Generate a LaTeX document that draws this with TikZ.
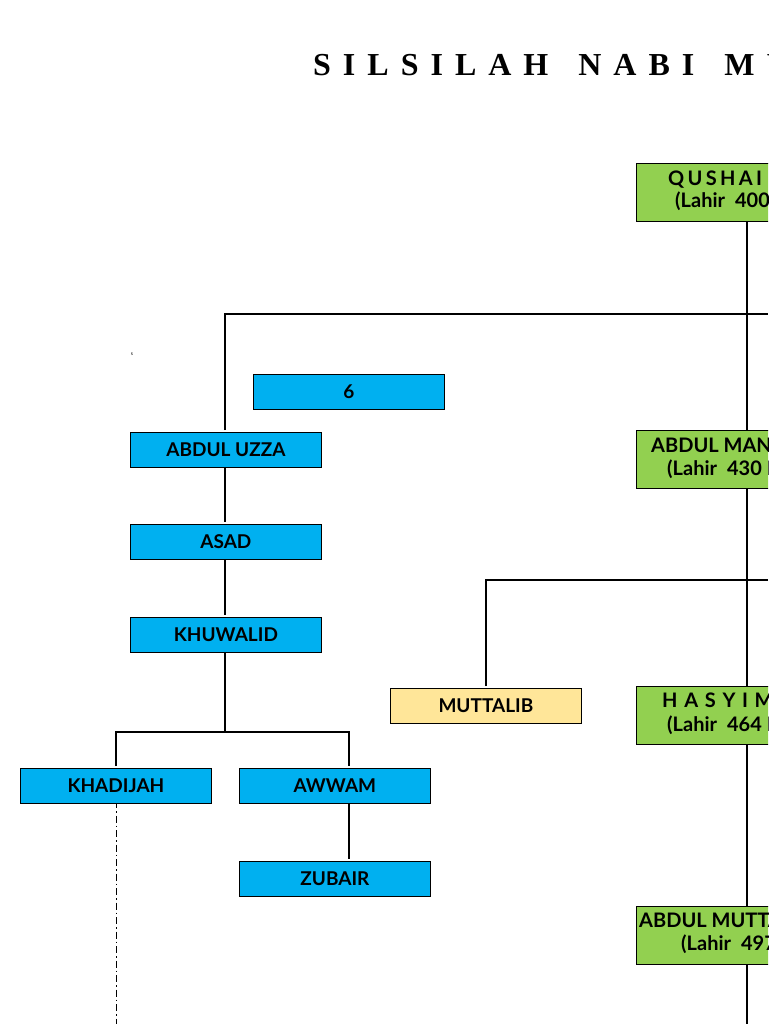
\documentclass[tikz,border=0pt]{standalone}
\usepackage{fontspec}
\setmainfont{Lato}
\newfontfamily\titlefont{Liberation Serif}
\definecolor{bluebox}{HTML}{00B0F0}
\definecolor{greenbox}{HTML}{92D050}
\definecolor{yellowbox}{HTML}{FFE699}
\newcommand{\tg}{\kern12pt}
\begin{document}
\begin{tikzpicture}[x=1pt,y=-1pt,
  bx/.style={draw=black,line width=0.8pt,fill=bluebox,minimum width=191pt,minimum height=35pt,inner sep=0pt,font=\bfseries\fontsize{19}{21}\selectfont,anchor=north west,text depth=0pt,text height=13pt,yshift=-2pt},
  gbox/.style={draw=black,line width=0.8pt,fill=greenbox,anchor=north west,minimum width=200pt,minimum height=58pt,inner sep=0pt},
  gt/.style={anchor=west,font=\bfseries\fontsize{20}{22}\selectfont,inner sep=0pt},
  ln/.style={line width=1.3pt}]
\useasboundingbox (0,0) rectangle (768,1024);
\clip (0,0) rectangle (768,1024);
% title
\node[anchor=west,inner sep=0pt,font=\titlefont\bfseries\fontsize{32}{36}\selectfont] (title) at (313,65) {S\tg I\tg L\tg S\tg I\tg L\tg A\tg H\kern30pt N\tg A\tg B\tg I\kern30pt M\tg U\tg H\tg A\tg M\tg M\tg A\tg D};
\node[font=\fontsize{5}{5}\selectfont,inner sep=0pt] (s) at (132,354) {s};
% lines
\coordinate (top) at (747,221);
\coordinate (bot) at (747,1024);
\coordinate (rr1) at (768,314);
\coordinate (rr2) at (768,580);
\coordinate (dend) at (116,1024);
\draw[ln] (top) -- (bot);
\draw[ln] (225,430) -- (225,314) -- (rr1);
\draw[ln] (486,686) -- (486,580) -- (rr2);
\draw[ln] (225,465) -- (225,522);
\draw[ln] (225,557) -- (225,615);
\draw[ln] (225,650) -- (225,732);
\draw[ln] (116,766) -- (116,732) -- (349,732) -- (349,766);
\draw[ln] (349,801) -- (349,859);
\draw[line width=1pt,dash pattern=on 7pt off 3pt on 1.5pt off 3pt] (116,801) -- (dend);
% green boxes
\node[gbox] (qusha) at (636,163) {};
\node[gbox] (manaf) at (636,430) {};
\node[gbox] (hasyim) at (636,686) {};
\node[gbox] (mut) at (636,906) {};
\node[gt] at (668,180) {Q\,U\,S\,H\,A\,I};
\node[gt] at (675,201) {(Lahir\,\,\,400 M)};
\node[gt] at (651,445) {ABDUL MANAF};
\node[gt] at (667,469) {(Lahir\,\,\,430 M)};
\node[gt] at (662,700) {H\,\,A\,\,S\,\,Y\,\,I\,\,M};
\node[gt] at (667,725) {(Lahir\,\,\,464 M)};
\node[gt] at (639,920) {ABDUL MUTTALIB};
\node[gt] at (681,944) {(Lahir\,\,\,497 M)};
% blue boxes
\node[bx] (six) at (253,372) {6};
\node[bx] (uzza) at (130,430) {ABDUL UZZA};
\node[bx] (asad) at (130,522) {ASAD};
\node[bx] (khuw) at (130,615) {KHUWALID};
\node[bx] (khad) at (20,766) {KHADIJAH};
\node[bx] (awwam) at (239,766) {AWWAM};
\node[bx] (zubair) at (239,859) {ZUBAIR};
\node[bx,fill=yellowbox] (mutt) at (390,686) {MUTTALIB};
\end{tikzpicture}
\end{document}
